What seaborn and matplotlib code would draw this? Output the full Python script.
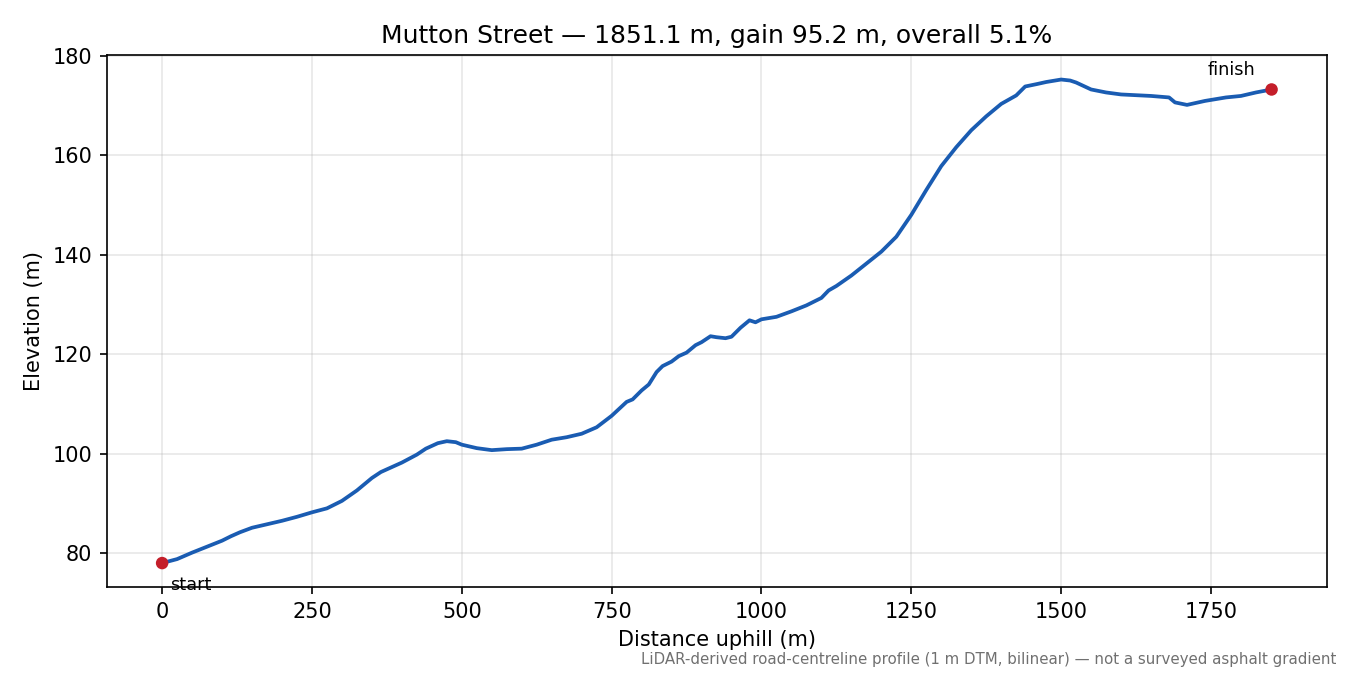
import numpy as np
import pandas as pd
import matplotlib
matplotlib.use("Agg")
import matplotlib.pyplot as plt
import seaborn as sns


# profile
distance = [0, 25, 50, 75, 100, 115, 130, 150, 175, 200, 225, 250, 275, 300,
            325, 350, 365, 400, 425, 440, 460, 475, 490, 500, 525, 550, 575,
            600, 625, 650, 675, 700, 725, 750, 775, 785, 800, 812, 825, 835,
            850, 862, 875, 890, 900, 915, 925, 940, 950, 965, 980, 990, 1000,
            1025, 1050, 1075, 1100, 1112, 1125, 1150, 1175, 1200, 1225, 1250,
            1275, 1300, 1325, 1350, 1375, 1400, 1425, 1440, 1460, 1475, 1500,
            1515, 1525, 1550, 1575, 1600, 1650, 1680, 1690, 1710, 1740, 1775,
            1800, 1825, 1851.1]
elevation = [78.0, 78.8, 80.1, 81.3, 82.5, 83.4, 84.2, 85.1, 85.8, 86.5,
             87.3, 88.2, 89.0, 90.5, 92.6, 95.1, 96.3, 98.2, 99.8, 101.0,
             102.1, 102.5, 102.3, 101.8, 101.1, 100.7, 100.9, 101.0, 101.8,
             102.8, 103.3, 104.0, 105.3, 107.6, 110.4, 110.9, 112.7, 113.9,
             116.4, 117.6, 118.5, 119.6, 120.3, 121.8, 122.4, 123.6, 123.4,
             123.2, 123.5, 125.3, 126.8, 126.4, 127.0, 127.5, 128.6, 129.8,
             131.3, 132.8, 133.7, 135.8, 138.2, 140.6, 143.6, 148.0, 153.0,
             157.8, 161.6, 165.0, 167.8, 170.3, 172.0, 173.8, 174.3, 174.7,
             175.2, 175.0, 174.6, 173.2, 172.6, 172.2, 171.9, 171.6, 170.6,
             170.1, 170.9, 171.6, 171.9, 172.6, 173.2]

route = "Mutton Street"
footnote = ("LiDAR-derived road-centreline profile (1 m DTM, bilinear) "
            "\u2014 not a surveyed asphalt gradient")

df = pd.DataFrame({"Distance": distance, "Elevation": elevation})
ends = df.iloc[[0, -1]]

total = df["Distance"].iloc[-1]
gain = df["Elevation"].iloc[-1] - df["Elevation"].iloc[0]
grade = gain / total * 100

fig, ax = plt.subplots(figsize=(9, 4.5), dpi=150)
sns.lineplot(data=df, x="Distance", y="Elevation", color="#1a5cb2",
             linewidth=1.8, ax=ax, zorder=2)
sns.scatterplot(data=ends, x="Distance", y="Elevation", color="#c41e2a",
                s=36, edgecolor="none", ax=ax, zorder=3)

ax.annotate("start", (ends["Distance"].iloc[0], ends["Elevation"].iloc[0]),
            xytext=(4, -6), textcoords="offset points", ha="left", va="top",
            fontsize=8.5)
ax.annotate("finish", (ends["Distance"].iloc[1], ends["Elevation"].iloc[1]),
            xytext=(-8, 5), textcoords="offset points", ha="right",
            va="bottom", fontsize=8.5)

ax.set_xticks([0, 250, 500, 750, 1000, 1250, 1500, 1750])
ax.set_yticks([80, 100, 120, 140, 160, 180])
ax.grid(alpha=0.3)
ax.set_axisbelow(True)
ax.set_title(f"{route} \u2014 {total:.1f} m, gain {gain:.1f} m, "
             f"overall {grade:.1f}%", fontsize=12)
ax.set_xlabel("Distance uphill (m)")
ax.set_ylabel("Elevation (m)")

fig.text(0.99, 0.012, footnote, ha="right", va="bottom", fontsize=7.2,
         color="#707070")
fig.subplots_adjust(left=0.079, right=0.983, top=0.918, bottom=0.13)
fig.savefig("out.png")
